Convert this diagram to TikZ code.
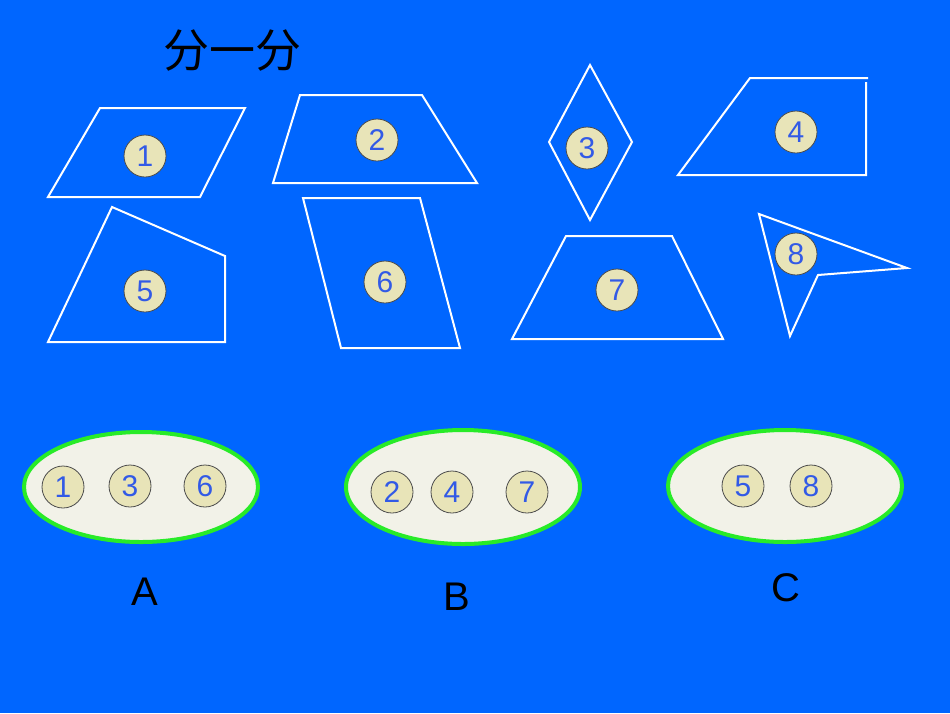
\documentclass[tikz,border=0pt]{standalone}
\usepackage{fontspec}
\setmainfont{Liberation Sans}
\newfontfamily\cjk{Noto Sans CJK SC}
\definecolor{bg}{RGB}{0,102,255}
\definecolor{beige}{RGB}{232,228,184}
\definecolor{numblue}{RGB}{50,90,230}
\definecolor{grn}{RGB}{40,235,40}
\definecolor{ell}{RGB}{242,242,232}
\tikzset{x=1pt,y=-1pt,
 shp/.style={draw=white,line width=2pt,line join=miter},
 num/.style={circle,draw=black!70,line width=0.8pt,fill=beige,minimum size=42pt,inner sep=0pt,text=numblue,font=\fontsize{30}{30}\selectfont},
 grp/.style={ellipse,draw=grn,line width=4pt,fill=ell},
 lab/.style={font=\fontsize{40}{40}\selectfont,text=black}}
\usetikzlibrary{shapes.geometric}
\begin{document}
\begin{tikzpicture}
\fill[bg] (0,0) rectangle (950,713);
\useasboundingbox (0,0) rectangle (950,713);
\node[font=\cjk\fontsize{46}{46}\selectfont] (t) at (232,50) {分一分};
\draw[shp] (100,108)--(245,108)--(200,197)--(48,197)--cycle;
\draw[shp] (300,95)--(422,95)--(477,183)--(273,183)--cycle;
\draw[shp] (590,65)--(632,142)--(590,220)--(549,142)--cycle;
\draw[shp] (868,78)--(750,78)--(678,175)--(866,175)--(866,82);
\draw[shp] (112,207)--(225,256)--(225,342)--(48,342)--cycle;
\draw[shp] (303,198)--(420,198)--(460,348)--(341,348)--cycle;
\draw[shp] (566,236)--(672,236)--(723,339)--(512,339)--cycle;
\draw[shp] (759,214)--(907,268)--(818,275)--(790,336)--cycle;
\node[num] (n1) at (145,156) {1};
\node[num] (n2) at (377,140) {2};
\node[num] (n3) at (587,148) {3};
\node[num] (n4) at (796,132) {4};
\node[num] (n5) at (145,291) {5};
\node[num] (n6) at (385,282) {6};
\node[num] (n7) at (617,290) {7};
\node[num] (n8) at (796,254) {8};
\draw[grp] (141,487) ellipse [x radius=117, y radius=55];
\draw[grp] (463,487) ellipse [x radius=117, y radius=57];
\draw[grp] (785,486) ellipse [x radius=117, y radius=56];
\node[num] (a1) at (63,487) {1};
\node[num] (a3) at (130,486) {3};
\node[num] (a6) at (205,486) {6};
\node[num] (b2) at (392,492) {2};
\node[num] (b4) at (452,492) {4};
\node[num] (b7) at (527,492) {7};
\node[num] (c5) at (743,486) {5};
\node[num] (c8) at (811,486) {8};
\node[lab] (A) at (145,592) {A};
\node[lab] (B) at (457,597) {B};
\node[lab] (C) at (786,588) {C};
\end{tikzpicture}
\end{document}
